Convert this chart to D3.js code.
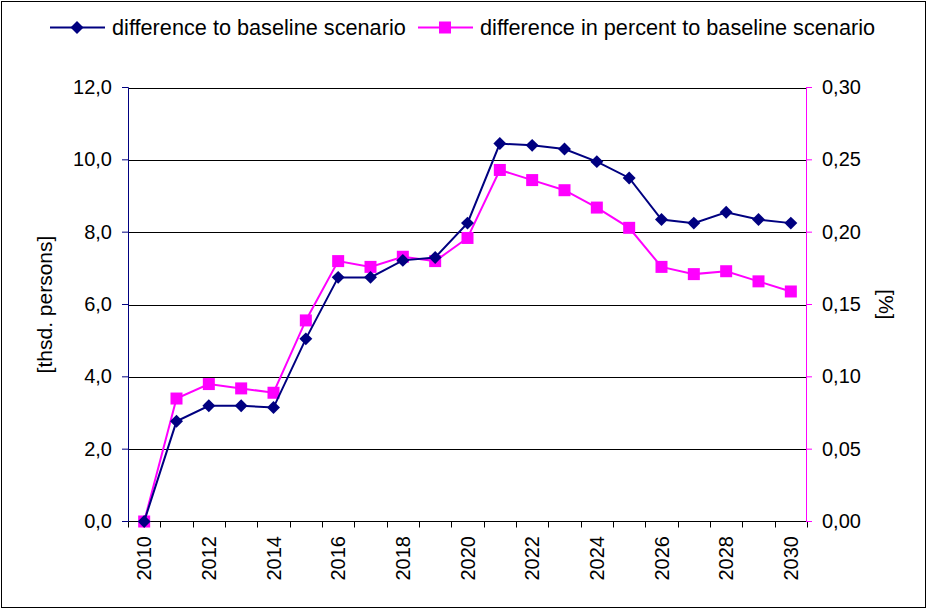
<!DOCTYPE html>
<html><head><meta charset="utf-8">
<script src="https://cdn.jsdelivr.net/npm/d3@7"></script>
<style>body{margin:0;background:#fff}svg{display:block;font-family:"Liberation Sans",Arial,sans-serif}</style>
</head><body><svg id="c" width="929" height="610"></svg>
<script>
const years = d3.range(2010, 2031).map(String);
const absDiff = [0.0, 2.77, 3.2, 3.2, 3.15, 5.05, 6.75, 6.75, 7.22, 7.3, 8.25, 10.45, 10.4, 10.3, 9.95, 9.5, 8.35, 8.25, 8.55, 8.35, 8.25];
const pctDiff = [0.0, 0.085, 0.095, 0.092, 0.089, 0.139, 0.180, 0.176, 0.183, 0.180, 0.196, 0.243, 0.236, 0.229, 0.217, 0.203, 0.176, 0.171, 0.173, 0.166, 0.159];
const leftTicks = [0, 2, 4, 6, 8, 10, 12];
const rightTicks = [0, 0.05, 0.10, 0.15, 0.20, 0.25, 0.30];
const seriesNames = ["difference to baseline scenario", "difference in percent to baseline scenario"];
const navy = "#000080", mag = "#FF00FF";

const svg = d3.select("#c");
const L = 128, R = 807, T = 87.5, B = 521.5;
svg.append("rect").attr("x",1.5).attr("y",1.5).attr("width",924).attr("height",606).attr("fill","#fff").attr("stroke","#000");

const x = d3.scaleBand().domain(years).range([L, R]).padding(0);
const yL = d3.scaleLinear().domain([0, 12]).range([B, T]);
const yR = d3.scaleLinear().domain([0, 0.30]).range([B, T]);
const cx = d => x(d) + x.bandwidth()/2;
const fmt1 = d3.format(".1f"), fmt2 = d3.format(".2f");
const comma = s => s.replace(".", ",");

// gridlines
svg.append("g").selectAll("line").data(leftTicks.filter(d=>d>0)).join("line")
  .attr("x1",L).attr("x2",R).attr("y1",d=>Math.round(yL(d))+0.5).attr("y2",d=>Math.round(yL(d))+0.5)
  .attr("stroke","#000").attr("stroke-width",1);

// x axis
const xAxis = d3.axisBottom(x).tickSizeInner(0).tickSizeOuter(0).tickFormat(d => (+d % 2 === 0) ? d : "");
const gx = svg.append("g").attr("transform", `translate(0,${B-0.5})`).call(xAxis);
gx.select(".domain").attr("stroke","#000");
gx.selectAll(".tick line").remove();
gx.selectAll(".tick text").attr("transform","rotate(-90)").attr("text-anchor","end")
  .attr("x",-15).attr("y",0).attr("dy","0.36em").attr("font-size",20).attr("fill","#000");
// boundary ticks
const bounds = years.map(d => x(d)).concat([R]);
svg.append("g").selectAll("line").data(bounds).join("line")
  .attr("x1",d=>Math.round(d)+0.5).attr("x2",d=>Math.round(d)+0.5).attr("y1",B).attr("y2",B+6).attr("stroke","#000");

// left axis
const gl = svg.append("g").attr("transform",`translate(${L},-0.5)`)
  .call(d3.axisLeft(yL).tickValues(leftTicks).tickSize(6).tickPadding(10).tickFormat(d=>comma(fmt1(d))));
gl.select(".domain").attr("stroke",navy);
gl.selectAll(".tick line").attr("stroke",navy);
gl.selectAll(".tick text").attr("font-size",20).attr("fill","#000");

// right axis
const gr = svg.append("g").attr("transform",`translate(${R-1},-0.5)`)
  .call(d3.axisRight(yR).tickValues(rightTicks).tickSize(6).tickPadding(10).tickFormat(d=>comma(fmt2(d))));
gr.select(".domain").attr("stroke",mag);
gr.selectAll(".tick line").attr("stroke",mag);
gr.selectAll(".tick text").attr("font-size",20).attr("fill","#000");

// axis titles
svg.append("text").attr("transform",`translate(52,${(T+B)/2}) rotate(-90)`).attr("text-anchor","middle")
  .attr("font-size",21).text("[thsd. persons]");
svg.append("text").attr("transform",`translate(879,${(T+B)/2}) rotate(90)`).attr("text-anchor","middle")
  .attr("font-size",21).text("[%]");

// series
const lineL = d3.line().x((d,i)=>cx(years[i])).y(d=>yL(d));
const lineR = d3.line().x((d,i)=>cx(years[i])).y(d=>yR(d));
svg.append("path").attr("d",lineR(pctDiff)).attr("fill","none").attr("stroke",mag).attr("stroke-width",2);
svg.append("g").selectAll("rect").data(pctDiff).join("rect")
  .attr("x",(d,i)=>cx(years[i])-6).attr("y",d=>yR(d)-6).attr("width",12).attr("height",12).attr("fill",mag);
svg.append("path").attr("d",lineL(absDiff)).attr("fill","none").attr("stroke",navy).attr("stroke-width",2);
svg.append("g").selectAll("path").data(absDiff).join("path")
  .attr("d",d3.symbol().type(d3.symbolSquare).size(84))
  .attr("transform",(d,i)=>`translate(${cx(years[i])},${yL(d)}) rotate(45)`).attr("fill",navy);

// legend
const leg = svg.append("g");
const items = [{x:50, c:navy, t:"d"}, {x:418, c:mag, t:"s"}];
items.forEach((it,k)=>{
  leg.append("line").attr("x1",it.x).attr("x2",it.x+55).attr("y1",27.5).attr("y2",27.5).attr("stroke",it.c).attr("stroke-width",2);
  if (it.t==="d") leg.append("path").attr("d",d3.symbol().type(d3.symbolSquare).size(84)).attr("transform",`translate(${it.x+27},27.5) rotate(45)`).attr("fill",it.c);
  else leg.append("rect").attr("x",it.x+27-6).attr("y",21.5).attr("width",12).attr("height",12).attr("fill",it.c);
  leg.append("text").attr("x",it.x+62).attr("y",35).attr("font-size",21.7).text(seriesNames[k]);
});
</script></body></html>
